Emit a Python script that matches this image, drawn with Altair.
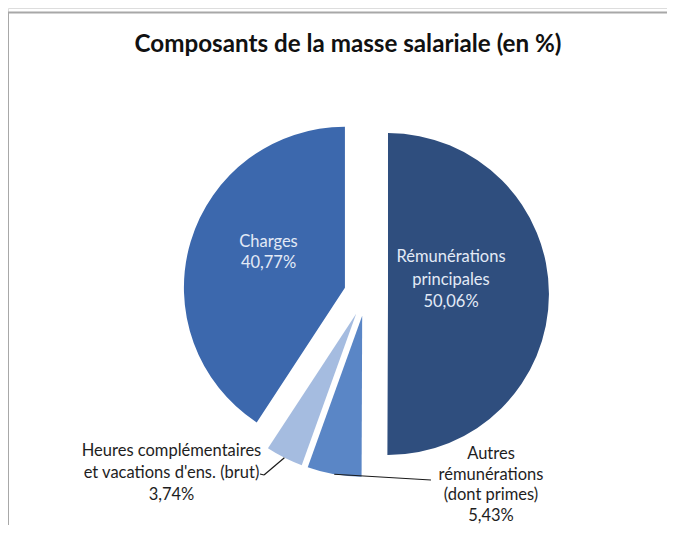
import math
import altair as alt
import pandas as pd

categories = [
    "Rémunérations principales",
    "Autres rémunérations (dont primes)",
    "Heures complémentaires et vacations d'ens. (brut)",
    "Charges",
]
values = [50.06, 5.43, 3.74, 40.77]
value_labels = ["50,06%", "5,43%", "3,74%", "40,77%"]
colors = ["#2f4e7e", "#5a86c6", "#a5bce0", "#3c68ad"]
title_text = "Composants de la masse salariale (en %)"

W, H = 659, 517
CX, CY = 358, 286      # pie centre (px)
R = 161                # radius
EXPLODE = 22           # explosion distance

df = pd.DataFrame({"cat": categories, "value": values, "idx": list(range(len(values)))})

base = (
    alt.Chart(df)
    .transform_window(end="sum(value)", sort=[alt.SortField("idx")], frame=[None, 0])
    .transform_calculate(start="datum.end - datum.value")
    .transform_calculate(mid="(datum.start + datum.end) / 2 * 2 * PI / 100")
    .transform_calculate(
        cx=f"{CX} + {EXPLODE} * sin(datum.mid)",
        cy=f"{CY} - {EXPLODE} * cos(datum.mid)",
    )
    .transform_calculate(
        ox=f"datum.cx + {R} * sin(datum.mid)",
        oy=f"datum.cy - {R} * cos(datum.mid)",
    )
)

arcs = base.mark_arc(outerRadius=R, stroke=None).encode(
    theta=alt.Theta("start:Q", scale=alt.Scale(domain=[0, 100], range=[0, 2 * math.pi])),
    theta2="end:Q",
    x=alt.X("cx:Q", scale=None, axis=None),
    y=alt.Y("cy:Q", scale=None, axis=None),
    color=alt.Color("cat:N", scale=alt.Scale(domain=categories, range=colors), legend=None),
)

lead_heures = base.transform_filter(alt.datum.idx == 2).mark_rule(color="#1a1a1a", strokeWidth=1.2).encode(
    x=alt.X("ox:Q", scale=None, axis=None),
    y=alt.Y("oy:Q", scale=None, axis=None),
    x2=alt.value(256),
    y2=alt.value(467),
)
lead_heures2 = base.transform_filter(alt.datum.idx == 2).mark_rule(color="#1a1a1a", strokeWidth=1.2).encode(
    x=alt.value(256), y=alt.value(467), x2=alt.value(252), y2=alt.value(466)
)
lead_autres = base.transform_filter(alt.datum.idx == 1).mark_rule(color="#1a1a1a", strokeWidth=1.2).encode(
    x=alt.X("ox:Q", scale=None, axis=None),
    y=alt.Y("oy:Q", scale=None, axis=None),
    x2=alt.value(423),
    y2=alt.value(472),
)

FONT = "Lato"

def txt(text, x, y, color, size=16.5, bold=False, lh=22):
    return alt.Chart(pd.DataFrame({"t": [text]})).mark_text(
        font=FONT, fontSize=size, fontWeight="bold" if bold else "normal",
        color=color, align="center", baseline="middle", lineHeight=lh,
    ).encode(text="t:N", x=alt.value(x), y=alt.value(y))

title = txt(title_text, 340, 37, "#111111", size=24.2, bold=True)
lab_rem = txt(["Rémunérations", "principales", value_labels[0]], 443, 249, "#e3eaf6", lh=22.5)
lab_ch = txt(["Charges", value_labels[3]], 260.5, 234, "#e3eaf6", lh=21)
lab_he = txt(["Heures complémentaires", "et vacations d'ens. (brut)", value_labels[2]], 163.5, 443, "#1e1e1e", lh=22)
lab_au = txt(["Autres", "rémunérations", "(dont primes)", value_labels[1]], 483, 446, "#1e1e1e", lh=20.5)

border_top = alt.Chart(pd.DataFrame({"a": [0]})).mark_rule(color="#a8a8a8", strokeWidth=2).encode(
    x=alt.value(-1), x2=alt.value(W + 8), y=alt.value(4.5)
)
border_left = alt.Chart(pd.DataFrame({"a": [0]})).mark_rule(color="#a8a8a8", strokeWidth=2).encode(
    x=alt.value(0), y=alt.value(4.5), y2=alt.value(H + 8)
)

chart = (
    alt.layer(border_top, border_left, arcs, lead_heures, lead_heures2, lead_autres,
              title, lab_rem, lab_ch, lab_he, lab_au)
    .properties(width=W, height=H, autosize=alt.AutoSizeParams(type="none"), padding=0)
    .configure_view(stroke=None)
    .configure(background="white")
)

chart.save("out.html", embed_options={"renderer": "svg", "actions": False})
